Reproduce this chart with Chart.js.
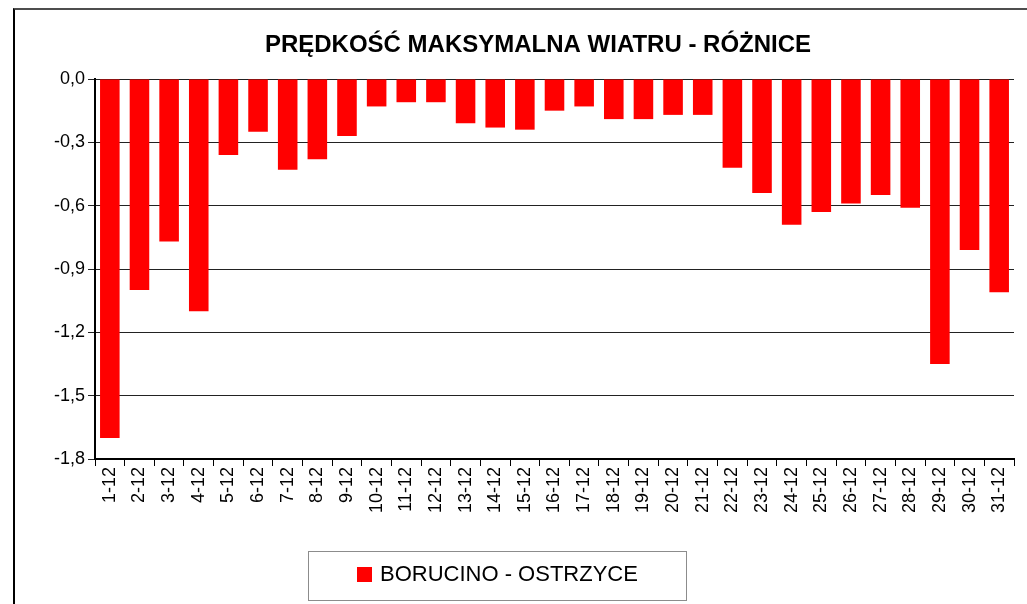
<!DOCTYPE html>
<html>
<head>
<meta charset="utf-8">
<script src="https://cdn.jsdelivr.net/npm/chart.js@4"></script>
<style>
  html, body { margin: 0; padding: 0; background: #fff; overflow: hidden; }
  #wrap { position: relative; width: 1027px; height: 604px; }
  #frame { position: absolute; left: 13px; top: 8px; width: 1100px; height: 700px;
           border-left: 2px solid #000; border-top: 2px solid #4d4d4d; pointer-events: none; }
</style>
</head>
<body>
<div id="wrap">
  <canvas id="myChart" width="1027" height="604"></canvas>
  <div id="frame"></div>
</div>
<script>
// data
const days = ['1-12','2-12','3-12','4-12','5-12','6-12','7-12','8-12','9-12','10-12',
  '11-12','12-12','13-12','14-12','15-12','16-12','17-12','18-12','19-12','20-12',
  '21-12','22-12','23-12','24-12','25-12','26-12','27-12','28-12','29-12','30-12','31-12'];
const diffs = [-1.70,-1.00,-0.77,-1.10,-0.36,-0.25,-0.43,-0.38,-0.27,-0.13,
  -0.11,-0.11,-0.21,-0.23,-0.24,-0.15,-0.13,-0.19,-0.19,-0.17,
  -0.17,-0.42,-0.54,-0.69,-0.63,-0.59,-0.55,-0.61,-1.35,-0.81,-1.01];
const seriesName = 'BORUCINO - OSTRZYCE';
const chartTitle = 'PRĘDKOŚĆ MAKSYMALNA WIATRU - RÓŻNICE';

// title + boxed legend drawn by hand (excel puts them off-center)
const extras = {
  id: 'extras',
  afterDraw(chart) {
    const c = chart.ctx;
    c.save();
    c.fillStyle = '#000';
    c.textAlign = 'center';
    c.textBaseline = 'middle';
    c.font = 'bold 24px "Liberation Sans", Arial, sans-serif';
    c.fillText(chartTitle, 538, 45);

    c.strokeStyle = '#8c8c8c';
    c.lineWidth = 1;
    c.strokeRect(308.5, 551.5, 378, 49);
    c.fillStyle = '#ff0000';
    c.fillRect(357, 567, 15, 15);
    c.fillStyle = '#000';
    c.textAlign = 'left';
    c.font = '22px "Liberation Sans", Arial, sans-serif';
    c.fillText(seriesName, 380, 575);
    c.restore();
  }
};

const ctx = document.getElementById('myChart');
const myChart = new Chart(ctx, {
  type: 'bar',
  data: {
    labels: days,
    datasets: [{
      label: seriesName,
      data: diffs,
      backgroundColor: '#ff0000',
      borderWidth: 0,
      barPercentage: 0.66,
      categoryPercentage: 1
    }]
  },
  options: {
    responsive: false,
    animation: false,
    layout: { padding: { top: 79, left: 0, right: 13, bottom: 85 } },
    plugins: {
      legend: { display: false },
      title: { display: false },
      tooltip: { enabled: false }
    },
    scales: {
      x: {
        afterFit: s => { s.height = 60; },
        grid: { drawOnChartArea: false, color: '#000', tickLength: 7 },
        border: { color: '#000', width: 2 },
        ticks: {
          minRotation: 90, maxRotation: 90, autoSkip: false, padding: 1,
          color: '#000', font: { family: '"Liberation Sans", Arial', size: 18 }
        }
      },
      y: {
        min: -1.8, max: 0,
        afterFit: s => { s.width = 95; },
        grid: { color: '#222', tickLength: 7 },
        border: { color: '#000', width: 2 },
        ticks: {
          stepSize: 0.3, padding: 3, color: '#000',
          font: { family: '"Liberation Sans", Arial', size: 18 },
          callback: v => (Math.abs(v) < 1e-9 ? 0 : v).toFixed(1).replace('.', ',')
        }
      }
    }
  },
  plugins: [extras]
});
</script>
</body>
</html>
